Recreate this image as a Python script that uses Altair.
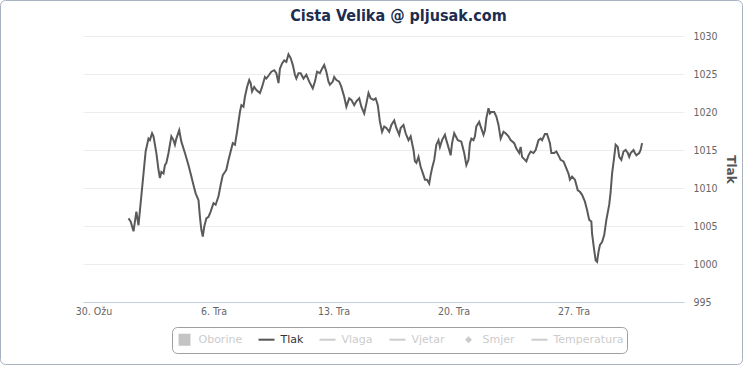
import altair as alt
import pandas as pd

# ---- data ----
START = "2014-03-30T00:00:00"
HOURS = [49, 52, 56, 60, 63, 66, 70, 73, 77, 79, 82, 84, 88, 91, 93, 95, 98, 100, 102, 105,
         107, 109, 112, 114, 116, 120, 123, 128, 133, 137, 141, 143, 147, 149, 151, 153, 155, 158, 161, 164,
         168, 171, 175, 178, 181, 184, 186, 189, 192, 195, 198, 201, 205, 207, 210, 212, 215, 218, 220, 222,
         225, 228, 233, 236, 240, 242, 246, 249, 253, 256, 259, 261, 264, 267, 270, 273, 276, 279, 282, 284,
         287, 290, 294, 298, 302, 307, 310, 313, 317, 320, 323, 326, 329, 331, 335, 337, 340, 344, 347, 351,
         354, 358, 361, 365, 368, 372, 375, 379, 382, 385, 388, 392, 395, 398, 401, 404, 407, 410, 414, 417,
         421, 424, 428, 430, 434, 437, 441, 444, 448, 450, 452, 455, 458, 462, 464, 467, 470, 472, 474, 477,
         480, 483, 485, 488, 492, 494, 498, 500, 502, 505, 510, 515, 519, 522, 525, 527, 529, 532, 534, 536,
         540, 542, 546, 548, 550, 553, 555, 557, 561, 564, 567, 570, 574, 577, 581, 584, 589, 592, 596, 598,
         600, 604, 606, 609, 612, 616, 619, 623, 626, 628, 632, 635, 639, 641, 645, 648, 652, 654, 658, 661,
         665, 667, 670, 674, 678, 681, 684, 688, 691, 694, 697, 698, 701, 703, 705, 707, 709, 712, 715, 718,
         722, 724, 726, 729, 731, 734, 736, 739, 742, 745, 748, 750, 752, 756, 758, 760, 764, 766, 768]
TLAK = [1006.0, 1005.6, 1004.3, 1006.9, 1005.1, 1008.0, 1011.9, 1014.8, 1016.5, 1016.3,
        1017.2, 1016.8, 1014.6, 1012.4, 1011.3, 1012.1, 1011.9, 1013.0, 1013.3, 1014.6,
        1015.7, 1016.8, 1016.3, 1015.7, 1016.5, 1017.6, 1016.1, 1014.6, 1013.0, 1011.5,
        1010.0, 1009.3, 1008.4, 1006.2, 1004.5, 1003.6, 1004.9, 1006.0, 1006.2, 1006.9,
        1008.0, 1007.8, 1008.9, 1010.4, 1011.7, 1012.1, 1012.4, 1013.7, 1014.8, 1015.9,
        1015.7, 1017.4, 1020.0, 1020.9, 1020.7, 1022.0, 1023.3, 1024.2, 1023.8, 1022.7,
        1023.3, 1022.9, 1022.5, 1023.3, 1024.6, 1024.4, 1024.9, 1025.3, 1025.5, 1025.1,
        1023.8, 1025.7, 1026.4, 1026.8, 1026.6, 1027.6, 1027.1, 1026.2, 1024.9, 1024.4,
        1025.1, 1025.1, 1024.4, 1024.9, 1024.0, 1023.1, 1024.0, 1025.3, 1025.1, 1025.7,
        1026.2, 1025.3, 1024.0, 1023.6, 1024.0, 1024.6, 1024.2, 1024.0, 1023.3, 1022.0,
        1020.7, 1021.8, 1021.6, 1020.9, 1021.4, 1021.8, 1020.7, 1019.8, 1021.1, 1022.5,
        1021.8, 1021.6, 1021.8, 1020.9, 1018.7, 1017.4, 1018.1, 1017.9, 1017.4, 1018.3,
        1018.9, 1017.9, 1017.0, 1017.9, 1018.3, 1017.2, 1016.3, 1016.8, 1015.0, 1013.5,
        1013.3, 1014.1, 1012.8, 1011.7, 1011.1, 1011.1, 1010.6, 1011.7, 1012.6, 1013.7,
        1015.7, 1016.3, 1015.4, 1016.3, 1017.0, 1016.3, 1015.0, 1014.3, 1015.9, 1017.2,
        1016.3, 1016.1, 1014.6, 1013.0, 1013.7, 1015.9, 1016.5, 1016.3, 1016.8, 1018.1,
        1018.7, 1018.1, 1017.0, 1017.6, 1019.2, 1020.5, 1019.8, 1020.0, 1020.0, 1019.4,
        1018.3, 1016.5, 1017.4, 1017.2, 1016.8, 1016.3, 1015.9, 1015.2, 1014.6, 1015.4,
        1014.1, 1013.7, 1013.5, 1014.3, 1014.8, 1014.6, 1015.0, 1016.3, 1016.5, 1016.3,
        1017.1, 1017.1, 1015.9, 1014.6, 1014.6, 1014.8, 1014.1, 1013.7, 1013.5, 1012.8,
        1011.9, 1011.1, 1011.5, 1011.1, 1009.7, 1009.5, 1009.1, 1008.2, 1007.1, 1005.8,
        1005.6, 1004.0, 1001.8, 1000.5, 1000.3, 1001.6, 1002.5, 1002.9, 1003.8, 1005.8,
        1007.8, 1009.5, 1011.9, 1014.1, 1015.7, 1015.4, 1014.1, 1013.7, 1014.8, 1015.0,
        1014.6, 1014.1, 1014.6, 1015.0, 1014.6, 1014.3, 1014.6, 1015.0, 1015.9]

TICK_DATES = [(3, 30), (4, 6), (4, 13), (4, 20), (4, 27)]
TICK_LABELS = ["30. Ožu", "6. Tra", "13. Tra", "20. Tra", "27. Tra"]
Y_TICKS = [995, 1000, 1005, 1010, 1015, 1020, 1025, 1030]

SERIES = ["Oborine", "Tlak", "Vlaga", "Vjetar", "Smjer", "Temperatura"]
SERIES_COLORS = ["#c4c4c4", "#555555", "#cccccc", "#cccccc", "#cccccc", "#cccccc"]
# legend symbol outlines (all share the same extent so the labels line up)
EXTENT = "M-1,-0.7M1,0.7"
SQUARE = "M-0.62,-0.62H0.62V0.62H-0.62Z" + EXTENT
DIAMOND = "M0,-0.26L0.26,0L0,0.26L-0.26,0Z" + EXTENT
LINE = "M-1,0H1" + EXTENT
SERIES_SHAPES = [SQUARE, LINE, LINE, LINE, DIAMOND, LINE]

TITLE = "Cista Velika @ pljusak.com"
Y_TITLE = "Tlak"

# ---- tables ----
start = pd.Timestamp(START)
df = pd.DataFrame({
    "time": start + pd.to_timedelta(HOURS, unit="h"),
    "tlak": TLAK,
})
leg_df = pd.DataFrame({"series": SERIES, "time": [None] * len(SERIES), "tlak": [None] * len(SERIES)})
frame_df = pd.DataFrame({"k": [0]})

FONT = "DejaVu Sans Condensed"

label_expr = "''"
for (m, d), lab in zip(TICK_DATES, TICK_LABELS):
    label_expr = f"(month(datum.value) == {m - 1} && date(datum.value) == {d}) ? '{lab}' : ({label_expr})"

x_scale = alt.Scale(domain=[alt.DateTime(year=2014, month=3, date=29, hours=9, minutes=18),
                            alt.DateTime(year=2014, month=5, date=3, hours=10, minutes=42)])
y_scale = alt.Scale(domain=[995, 1030], zero=False, nice=False)

x_axis = alt.Axis(
    values=[alt.DateTime(year=2014, month=m, date=d) for m, d in TICK_DATES],
    labelExpr=label_expr, title=None, grid=False, ticks=False,
    domainColor="#c0d0e0", domainWidth=1, labelFont=FONT, labelFontSize=10.5,
    labelColor="#666666", labelPadding=4, labelFlush=False, labelOverlap=False,
)
y_axis = alt.Axis(
    orient="right", values=Y_TICKS, format="d", title=Y_TITLE, grid=True, gridColor="#ececec",
    ticks=False, domain=False, labelFont=FONT, labelFontSize=10.5, labelColor="#666666",
    labelPadding=9, labelOverlap=False, labelFlush=False,
    titleFont="DejaVu Sans", titleFontSize=12, titleFontWeight="bold",
    titleColor="#555555", titlePadding=6,
)

line = alt.Chart(df).mark_line(color="#5a5a5a", strokeWidth=2).encode(
    x=alt.X("time:T", scale=x_scale, axis=x_axis),
    y=alt.Y("tlak:Q", scale=y_scale, axis=y_axis),
)

legend = alt.Legend(
    orient="none", legendX=89, legendY=291, direction="horizontal", title=None,
    fillColor="white", strokeColor="#a0a0a0", cornerRadius=5, padding=3.5,
    labelFont="DejaVu Sans", labelFontSize=11,
    labelColor={"expr": "datum.label == 'Tlak' ? '#333333' : '#cccccc'"},
    columnPadding=12, labelOffset=5, symbolSize=256, symbolStrokeWidth=2, symbolOpacity=1,
)

leg_layer = alt.Chart(leg_df).mark_point(filled=True, strokeWidth=2, opacity=1, size=256).encode(
    x=alt.X("time:T", scale=x_scale, axis=x_axis),
    y=alt.Y("tlak:Q", scale=y_scale, axis=y_axis),
    fill=alt.Fill("series:N", scale=alt.Scale(domain=SERIES, range=SERIES_COLORS), legend=legend),
    stroke=alt.Stroke("series:N", scale=alt.Scale(domain=SERIES, range=SERIES_COLORS), legend=legend),
    shape=alt.Shape("series:N", scale=alt.Scale(domain=SERIES, range=SERIES_SHAPES), legend=legend),
)

frame = alt.Chart(frame_df).mark_rect(fillOpacity=0, stroke="#a8b2c0", strokeWidth=1, cornerRadius=5).encode(
    x=alt.value(-82.5), x2=alt.value(659.5), y=alt.value(-35.5), y2=alt.value(328.5),
)

chart = alt.layer(frame, line, leg_layer).properties(
    width=601, height=266,
    padding={"left": 83, "top": 36, "right": 59, "bottom": 63},
    autosize=alt.AutoSizeParams(type="none"),
    title=alt.Title(TITLE, font=FONT, fontSize=16, fontWeight="bold", color="#1c2d4f",
                    anchor="middle", frame="group", dx=15, dy=35, offset=11),
).configure_view(stroke=None)

chart.save("out.html", embed_options={"renderer": "svg", "actions": False})
